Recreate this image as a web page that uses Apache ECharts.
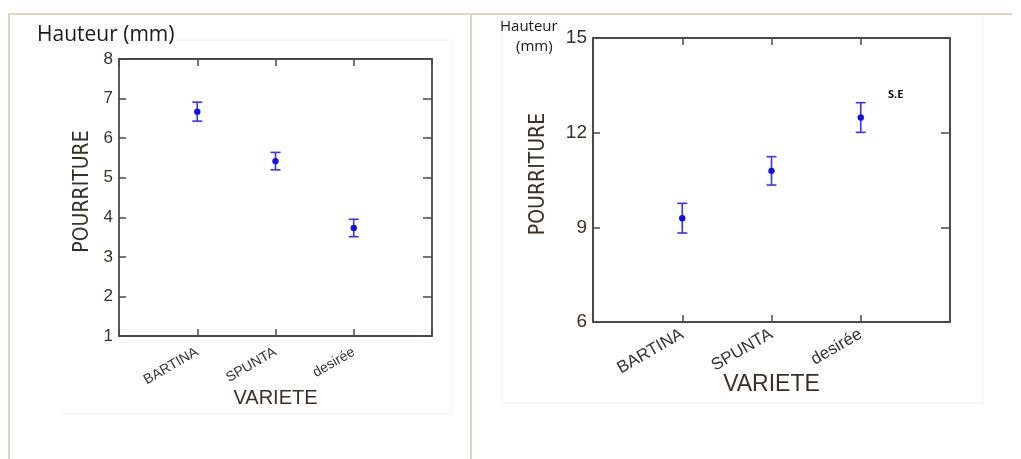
<!DOCTYPE html>
<html>
<head>
<meta charset="utf-8">
<script src="https://cdn.jsdelivr.net/npm/echarts@6/dist/echarts.min.js"></script>
<style>
  html, body { margin: 0; padding: 0; background: #fff; }
  #chart { width: 1021px; height: 459px; }
</style>
</head>
<body>
<div id="chart"></div>
<script>
// Potato varieties on the x axis
const varieties = ['BARTINA', 'SPUNTA', 'desirée'];

// Left panel: rot (POURRITURE) mean and standard error per variety
const leftMeans = [6.67, 5.42, 3.73];
const leftSE = [0.24, 0.22, 0.22];

// Right panel: rot (POURRITURE) mean and standard error per variety
const rightMeans = [9.29, 10.79, 12.48];
const rightSE = [0.47, 0.45, 0.47];

// Y axis ranges / tick steps for each panel
const leftY = { min: 1, max: 8, step: 1 };
const rightY = { min: 6, max: 15, step: 3 };

const axisColor = '#4a4a4a';
const labelColor = '#3a3026';
const barColor = '#3434ff';
const dotColor = '#1010e6';

function toRows(means, se) {
  return means.map((m, i) => [i + 1, m, se[i]]);
}

// mean dot with a capped +/- SE whisker
function errorBars(params, api) {
  const x = api.value(0), m = api.value(1), e = api.value(2);
  const top = api.coord([x, m + e]);
  const bot = api.coord([x, m - e]);
  const mid = api.coord([x, m]);
  const cap = 5;
  const st = { stroke: barColor, lineWidth: 1.6 };
  return {
    type: 'group',
    children: [
      { type: 'line', shape: { x1: top[0], y1: top[1], x2: bot[0], y2: bot[1] }, style: st },
      { type: 'line', shape: { x1: top[0] - cap, y1: top[1], x2: top[0] + cap, y2: top[1] }, style: st },
      { type: 'line', shape: { x1: bot[0] - cap, y1: bot[1], x2: bot[0] + cap, y2: bot[1] }, style: st },
      { type: 'circle', shape: { cx: mid[0], cy: mid[1], r: 3.2 }, style: { fill: dotColor } }
    ]
  };
}

function catLabel(v) {
  return varieties[v - 1] || '';
}

function xAxes(gridIndex, fontSize, margin, nameSize, nameGap, lw) {
  return [
    {
      gridIndex, type: 'value', min: 0, max: 4, interval: 1,
      axisLine: { onZero: false, lineStyle: { color: axisColor, width: lw } },
      axisTick: { inside: true, length: 7, lineStyle: { color: axisColor, width: 1.5 } },
      splitLine: { show: false },
      axisLabel: {
        formatter: catLabel, rotate: 30, margin: margin, color: '#333',
        fontFamily: 'Liberation Sans', fontSize: fontSize
      },
      name: 'VARIETE', nameLocation: 'middle', nameGap: nameGap, nameMoveOverlap: false,
      nameTextStyle: { fontFamily: 'Liberation Sans', fontSize: nameSize, color: labelColor }
    },
    {
      gridIndex, type: 'value', min: 0, max: 4, interval: 1, position: 'top',
      axisLine: { onZero: false, lineStyle: { color: axisColor, width: lw } },
      axisTick: { inside: true, length: 7, lineStyle: { color: axisColor, width: 1.5 } },
      axisLabel: { show: false }, splitLine: { show: false }
    }
  ];
}

function yAxes(gridIndex, r, fontSize, nameSize, nameGap, lw) {
  return [
    {
      gridIndex, type: 'value', min: r.min, max: r.max, interval: r.step, position: 'left',
      axisLine: { show: true, onZero: false, lineStyle: { color: axisColor, width: lw } },
      axisTick: { show: true, inside: true, length: 7, lineStyle: { color: axisColor, width: 1.5 } },
      splitLine: { show: false },
      axisLabel: { margin: 6, color: labelColor, fontFamily: 'Liberation Sans', fontSize: fontSize },
      name: 'POURRITURE', nameLocation: 'middle', nameGap: nameGap, nameMoveOverlap: false,
      nameTextStyle: {
        fontFamily: 'Liberation Sans Narrow, DejaVu Sans Condensed, Liberation Sans',
        fontSize: nameSize, color: labelColor, padding: [0, 0, 0, 12]
      }
    },
    {
      gridIndex, type: 'value', min: r.min, max: r.max, interval: r.step, position: 'right',
      axisLine: { show: true, onZero: false, lineStyle: { color: axisColor, width: lw } },
      axisTick: { show: true, inside: true, length: 9, lineStyle: { color: axisColor, width: 1.5 } },
      splitLine: { show: false }, axisLabel: { show: false }
    }
  ];
}

const frame = '#dad6c2';
const faint = '#f2f2f2';

const option = {
  backgroundColor: '#ffffff',
  animation: false,
  grid: [
    { left: 119, top: 59, width: 313, height: 277, containLabel: false },
    { left: 593, top: 38, width: 357, height: 284, containLabel: false }
  ],
  xAxis: [].concat(xAxes(0, 14, 15, 20, 52, 1.8), xAxes(1, 17, 11, 23, 51, 2)),
  yAxis: [].concat(yAxes(0, leftY, 17, 21, 26, 1.8), yAxes(1, rightY, 19, 21, 44, 2)),
  series: [
    { type: 'custom', xAxisIndex: 0, yAxisIndex: 0, data: toRows(leftMeans, leftSE), renderItem: errorBars },
    { type: 'custom', xAxisIndex: 2, yAxisIndex: 2, data: toRows(rightMeans, rightSE), renderItem: errorBars }
  ],
  graphic: [
    // page frame
    { type: 'line', shape: { x1: 8, y1: 14, x2: 1012, y2: 14 }, style: { stroke: frame, lineWidth: 2 } },
    { type: 'line', shape: { x1: 9, y1: 14, x2: 9, y2: 459 }, style: { stroke: frame, lineWidth: 2 } },
    { type: 'line', shape: { x1: 471, y1: 14, x2: 471, y2: 459 }, style: { stroke: frame, lineWidth: 2 } },
    // faint panel edges
    { type: 'polyline', shape: { points: [[59, 40], [452, 40], [452, 414], [59, 414]] }, style: { stroke: faint, fill: null, lineWidth: 1 } },
    { type: 'polyline', shape: { points: [[502, 16], [502, 403], [983, 403], [983, 16]] }, style: { stroke: faint, fill: null, lineWidth: 1 } },
    // unit captions
    { type: 'text', left: 37, top: 25, style: { text: 'Hauteur (mm)', fontFamily: 'Open Sans', fontSize: 21, fill: '#1a1a1a' } },
    { type: 'text', left: 500, top: 19, style: { text: 'Hauteur', fontFamily: 'Open Sans', fontSize: 15, fill: '#1a1a1a' } },
    { type: 'text', left: 516, top: 39, style: { text: '(mm)', fontFamily: 'Open Sans', fontSize: 15, fill: '#1a1a1a' } },
    { type: 'text', left: 888, top: 89, style: { text: 'S.E', fontFamily: 'Open Sans', fontSize: 11, fontWeight: 'bold', fill: '#111' } }
  ]
};

const chart = echarts.init(document.getElementById('chart'), null, { renderer: 'canvas' });
chart.setOption(option);
</script>
</body>
</html>
